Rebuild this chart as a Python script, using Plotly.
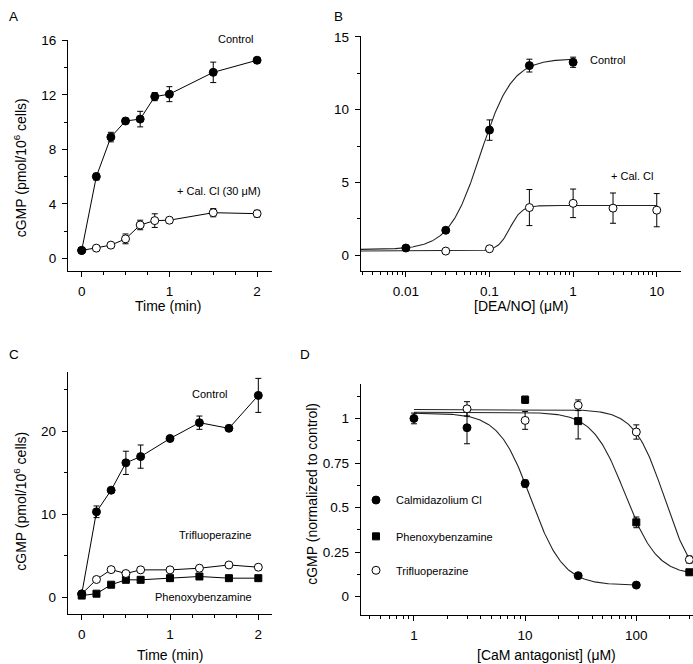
import numpy as np
import plotly.graph_objects as go

# ---------------- data ----------------
# Panel A: time course, Control vs + Cal. Cl (30 uM)
a_time = [0, 0.167, 0.333, 0.5, 0.667, 0.833, 1.0, 1.5, 2.0]
a_ctrl = [0.58, 6.0, 8.9, 10.08, 10.22, 11.87, 12.05, 13.65, 14.54]
a_ctrl_err = [0.1, 0.25, 0.35, 0.2, 0.57, 0.3, 0.55, 0.75, 0.2]
a_cal = [0.58, 0.75, 0.97, 1.43, 2.45, 2.77, 2.8, 3.35, 3.28]
a_cal_err = [0.1, 0.1, 0.1, 0.36, 0.35, 0.5, 0.2, 0.3, 0.25]

# Panel B: DEA/NO concentration-response
b_conc_ctrl = [0.01, 0.03, 0.1, 0.3, 1.0]
b_ctrl = [0.5, 1.72, 8.6, 13.03, 13.26]
b_ctrl_err = [0.1, 0.1, 0.7, 0.44, 0.35]
b_conc_cal = [0.03, 0.1, 0.3, 1.0, 3.0, 10.0]
b_cal = [0.29, 0.45, 3.28, 3.57, 3.24, 3.1]
b_cal_err = [0.1, 0.1, 1.24, 0.98, 1.04, 1.14]
# Hill fit parameters (bottom, top, EC50, slope)
b_fit_ctrl = (0.4, 13.5, 0.078, 2.3)
b_fit_cal = (0.3, 3.42, 0.175, 6.0)

# Panel C: time course with CaM antagonists
c_time = [0, 0.167, 0.333, 0.5, 0.667, 1.0, 1.333, 1.667, 2.0]
c_ctrl = [0.4, 10.3, 12.9, 16.2, 16.95, 19.13, 21.04, 20.36, 24.33]
c_ctrl_err = [0.3, 0.7, 0.3, 1.4, 1.4, 0.3, 0.8, 0.3, 2.05]
c_trif = [0.4, 2.14, 3.33, 2.86, 3.3, 3.3, 3.5, 3.89, 3.62]
c_phen = [0.2, 0.43, 1.51, 2.1, 2.1, 2.3, 2.5, 2.3, 2.3]

# Panel D: normalized cGMP vs CaM antagonist concentration
d_conc_calm = [1, 3, 10, 30, 100]
d_calm = [1.0, 0.948, 0.635, 0.118, 0.065]
d_calm_err = [0.03, 0.09, 0.02, 0.01, 0.01]
d_conc_phen = [10, 30, 100, 300]
d_phen = [1.105, 0.985, 0.417, 0.137]
d_phen_err = [0.02, 0.1, 0.03, 0.01]
d_conc_trif = [3, 10, 30, 100, 300]
d_trif = [1.054, 0.989, 1.074, 0.924, 0.208]
d_trif_err = [0.04, 0.05, 0.03, 0.04, 0.02]
d_fit_calm = (0.065, 1.03, 11.3, 3.0)
d_fit_phen = (0.12, 1.035, 79.0, 3.0)
d_fit_trif = (0.05, 1.05, 180.0, 3.2)

# ---------------- helpers ----------------
W, H = 693, 664
FONT = "Arial, Liberation Sans, sans-serif"


def hill(x, p, rising=True):
    bottom, top, ec50, n = p
    x = np.asarray(x)
    if rising:
        return bottom + (top - bottom) / (1 + (ec50 / x) ** n)
    return bottom + (top - bottom) / (1 + (x / ec50) ** n)


def px(x):
    return x / W


def py(y):
    return 1 - y / H


def err(vals):
    return dict(type="data", array=vals, visible=True, color="black",
                thickness=1, width=3)


fig = go.Figure()

line_k = dict(color="black", width=1)
filled = dict(color="black", size=8, line=dict(color="black", width=1))
openc = dict(color="white", size=8, line=dict(color="black", width=1))
square = dict(color="black", size=7, symbol="square",
              line=dict(color="black", width=1))

# ---- Panel A ----
fig.add_trace(go.Scatter(x=a_time, y=a_cal, mode="lines+markers", line=line_k,
                         marker=openc, error_y=err(a_cal_err),
                         xaxis="x", yaxis="y", showlegend=False))
fig.add_trace(go.Scatter(x=a_time, y=a_ctrl, mode="lines+markers", line=line_k,
                         marker=filled, error_y=err(a_ctrl_err),
                         xaxis="x", yaxis="y", showlegend=False))

# ---- Panel B ----
xb1 = np.logspace(-2.54, 0, 300)
xb2 = np.logspace(-2.54, 1, 300)
fig.add_trace(go.Scatter(x=xb2, y=hill(xb2, b_fit_cal), mode="lines",
                         line=dict(color="#222", width=1.1),
                         xaxis="x2", yaxis="y2", showlegend=False))
fig.add_trace(go.Scatter(x=xb1, y=hill(xb1, b_fit_ctrl), mode="lines",
                         line=dict(color="#222", width=1.1),
                         xaxis="x2", yaxis="y2", showlegend=False))
fig.add_trace(go.Scatter(x=b_conc_cal, y=b_cal, mode="markers", marker=openc,
                         error_y=err(b_cal_err), xaxis="x2", yaxis="y2",
                         showlegend=False))
fig.add_trace(go.Scatter(x=b_conc_ctrl, y=b_ctrl, mode="markers", marker=filled,
                         error_y=err(b_ctrl_err), xaxis="x2", yaxis="y2",
                         showlegend=False))

# ---- Panel C ----
fig.add_trace(go.Scatter(x=c_time, y=c_phen, mode="lines+markers", line=line_k,
                         marker=square, xaxis="x3", yaxis="y3", showlegend=False))
fig.add_trace(go.Scatter(x=c_time, y=c_trif, mode="lines+markers", line=line_k,
                         marker=openc, xaxis="x3", yaxis="y3", showlegend=False))
fig.add_trace(go.Scatter(x=c_time, y=c_ctrl, mode="lines+markers", line=line_k,
                         marker=filled, error_y=err(c_ctrl_err),
                         xaxis="x3", yaxis="y3", showlegend=False))

# ---- Panel D ----
xd1 = np.logspace(0, 2, 300)
xd2 = np.logspace(0, np.log10(300), 300)
for p, xx in ((d_fit_trif, xd2), (d_fit_phen, xd2), (d_fit_calm, xd1)):
    fig.add_trace(go.Scatter(x=xx, y=hill(xx, p, rising=False), mode="lines",
                             line=dict(color="#222", width=1.1),
                             xaxis="x4", yaxis="y4", showlegend=False))
fig.add_trace(go.Scatter(x=d_conc_calm, y=d_calm, mode="markers", marker=filled,
                         error_y=err(d_calm_err), xaxis="x4", yaxis="y4",
                         name="Calmidazolium Cl", legend="legend"))
fig.add_trace(go.Scatter(x=d_conc_phen, y=d_phen, mode="markers", marker=square,
                         error_y=err(d_phen_err), xaxis="x4", yaxis="y4",
                         name="Phenoxybenzamine", legend="legend2"))
fig.add_trace(go.Scatter(x=d_conc_trif, y=d_trif, mode="markers", marker=openc,
                         error_y=err(d_trif_err), xaxis="x4", yaxis="y4",
                         name="Trifluoperazine", legend="legend3"))

# ---------------- axes ----------------
tickfont = dict(family=FONT, size=13.5, color="black")
common = dict(showline=True, linecolor="black", linewidth=1, ticks="outside",
              ticklen=5, tickwidth=1, tickcolor="black", showgrid=False,
              zeroline=False, tickfont=tickfont, ticklabelstandoff=3)

fig.update_layout(
    xaxis=dict(**common, domain=[px(68), px(272)], range=[-0.156, 2.17],
               tickmode="linear", tick0=0, dtick=1, anchor="y",
               minor=dict(ticks="outside", ticklen=3, dtick=0.25, tick0=0,
                          tickcolor="black")),
    yaxis=dict(**common, domain=[py(266.7), py(33)], range=[-0.92, 16.05],
               tickmode="linear", tick0=0, dtick=4, anchor="x",
               minor=dict(ticks="outside", ticklen=3, dtick=2, tick0=0,
                          tickcolor="black")),
    xaxis2=dict(**common, type="log", domain=[px(360.7), px(681)],
                range=[-2.54, 1.29], tickmode="linear", tick0=0, dtick=1,
                anchor="y2",
                minor=dict(ticks="outside", ticklen=3, dtick="D1",
                           tickcolor="black")),
    yaxis2=dict(**common, domain=[py(266.7), py(29.5)], range=[-1.07, 15.05],
                tickmode="linear", tick0=0, dtick=5, anchor="x2",
                minor=dict(ticks="outside", ticklen=3, dtick=2.5, tick0=0,
                           tickcolor="black")),
    xaxis3=dict(**common, domain=[px(67.7), px(272)], range=[-0.159, 2.155],
                tickmode="linear", tick0=0, dtick=1, anchor="y3",
                minor=dict(ticks="outside", ticklen=3, dtick=0.25, tick0=0,
                           tickcolor="black")),
    yaxis3=dict(**common, domain=[py(613.3), py(369.3)], range=[-2.0, 27.1],
                tickmode="linear", tick0=0, dtick=10, anchor="x3",
                minor=dict(ticks="outside", ticklen=3, dtick=5, tick0=0,
                           tickcolor="black")),
    xaxis4=dict(**common, type="log", domain=[px(360.7), 1.0],
                range=[-0.479, 2.51], tickmode="linear", tick0=0, dtick=1,
                anchor="y4",
                minor=dict(ticks="outside", ticklen=3, dtick="D1",
                           tickcolor="black")),
    yaxis4=dict(**common, domain=[py(614), py(380.7)], range=[-0.10, 1.195],
                tickmode="array", tickvals=[0, 0.25, 0.5, 0.75, 1],
                ticktext=["0", "0.25", "0.5", "0.75", "1"], anchor="x4",
                minor=dict(ticks="outside", ticklen=3, dtick=0.125, tick0=0,
                           tickcolor="black")),
)

# ---------------- legends (panel D) ----------------
legfont = dict(family=FONT, size=11, color="black")
for key, yy in (("legend", 498.3), ("legend2", 535), ("legend3", 569.3)):
    fig.layout[key] = dict(x=px(356), y=py(yy), xanchor="left", yanchor="middle",
                           bgcolor="rgba(0,0,0,0)", font=legfont,
                           itemwidth=30, borderwidth=0)

# ---------------- text annotations ----------------
ann = []


def add(text, x, y, size=11, angle=0, xanchor="center"):
    ann.append(dict(text=text, x=px(x), y=py(y), xref="paper", yref="paper",
                    showarrow=False, xanchor=xanchor, yanchor="middle",
                    textangle=angle,
                    font=dict(family=FONT, size=size, color="black")))


# panel letters
add("A", 13, 10, size=13.5)
add("B", 338, 10, size=13.5)
add("C", 14, 351, size=13.5)
add("D", 305, 351, size=13.5)

# axis titles
add("Time (min)", 168, 302, size=14)
add("[DEA/NO] (\u03bcM)", 521, 302, size=14)
add("Time (min)", 170, 655, size=14)
add("[CaM antagonist] (\u03bcM)", 546, 655, size=14)
add("cGMP (pmol/10<sup>6</sup> cells)", 20, 163, size=14, angle=-90)
add("cGMP (pmol/10<sup>6</sup> cells)", 20, 500, size=14, angle=-90)
add("cGMP (normalized to control)", 312, 492, size=14, angle=-90)

# in-plot labels
add("Control", 235, 32)
add("+ Cal. Cl (30 \u03bcM)", 219, 186)
add("Control", 607, 54)
add("+ Cal. Cl", 632, 171)
add("Control", 209, 391)
add("Trifluoperazine", 215, 534)
add("Phenoxybenzamine", 203, 596)

fig.update_layout(
    width=W, height=H, margin=dict(l=0, r=0, t=0, b=0),
    paper_bgcolor="white", plot_bgcolor="white",
    annotations=ann, font=dict(family=FONT, color="black"),
)

fig.write_html(
    "out.html",
    config={"displayModeBar": False},
    post_script="document.body.style.margin='0';document.body.style.overflow='hidden';",
)
